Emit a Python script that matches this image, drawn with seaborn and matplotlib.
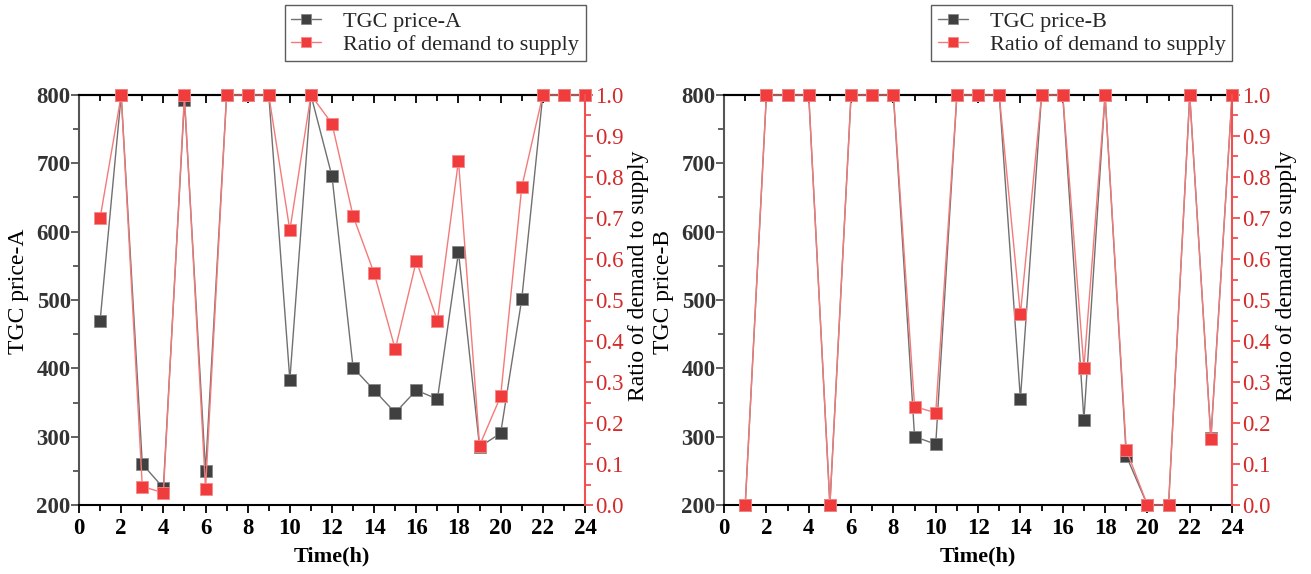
import numpy as np
import pandas as pd
import matplotlib
matplotlib.use("Agg")
import matplotlib.pyplot as plt
from matplotlib.ticker import MultipleLocator
from matplotlib.lines import Line2D
import seaborn as sns

sns.set_theme(style="white")
plt.rcParams['font.family'] = ['Liberation Serif', 'DejaVu Serif']

hours = list(range(1, 25))
price_a = [470, 800, 260, 225, 793, 250, 800, 800, 800, 383, 800, 681,
           401, 368, 335, 368, 355, 570, 285, 305, 501, 800, 800, 800]
ratio_a = [0.70, 1.0, 0.045, 0.03, 1.0, 0.04, 1.0, 1.0, 1.0, 0.67, 1.0, 0.93,
           0.705, 0.565, 0.38, 0.595, 0.45, 0.84, 0.145, 0.265, 0.775, 1.0, 1.0, 1.0]
price_b = [200, 800, 800, 800, 200, 800, 800, 800, 300, 289, 800, 800,
           800, 355, 800, 800, 325, 800, 272, 200, 200, 800, 298, 800]
ratio_b = [0.0, 1.0, 1.0, 1.0, 0.0, 1.0, 1.0, 1.0, 0.24, 0.225, 1.0, 1.0,
           1.0, 0.465, 1.0, 1.0, 0.335, 1.0, 0.135, 0.0, 0.0, 1.0, 0.16, 1.0]

BLACK_M = '#404040'
BLACK_L = '#707070'
RED_M = '#f03c3c'
RED_L = '#f47a7a'
RED_AX = '#f05050'
RED_TXT = '#d42a2a'

fig = plt.figure(figsize=(13.11, 5.74), dpi=100)

def panel(rect, price, ratio, name, legend_anchor):
    ax = fig.add_axes(rect)
    df = pd.DataFrame({'t': hours, 'p': price, 'r': ratio})
    sns.lineplot(data=df, x='t', y='p', ax=ax, color=BLACK_L, lw=1.0,
                 marker='s', markersize=8, markerfacecolor=BLACK_M,
                 markeredgecolor='#888888', markeredgewidth=0.6, clip_on=False)
    ax2 = ax.twinx()
    sns.lineplot(data=df, x='t', y='r', ax=ax2, color=RED_L, lw=1.0,
                 marker='s', markersize=8, markerfacecolor=RED_M,
                 markeredgecolor='#f58a8a', markeredgewidth=0.6, clip_on=False)
    ax.set_xlim(0, 24)
    ax.set_ylim(200, 800)
    ax2.set_ylim(0, 1.0)
    ax.xaxis.set_major_locator(MultipleLocator(2))
    ax.xaxis.set_minor_locator(MultipleLocator(1))
    ax.yaxis.set_major_locator(MultipleLocator(100))
    ax.yaxis.set_minor_locator(MultipleLocator(50))
    ax2.yaxis.set_minor_locator(MultipleLocator(0.05))
    ax2.set_yticks(np.arange(0, 1.01, 0.1))
    ax2.set_yticklabels([f'{v:.1f}' for v in np.arange(0, 1.01, 0.1)])

    for sp in ['top', 'bottom']:
        ax.spines[sp].set_color('black')
        ax.spines[sp].set_linewidth(1.5)
        ax2.spines[sp].set_visible(False)
    ax.spines['left'].set_color('#555555')
    ax.spines['left'].set_linewidth(1.5)
    ax.spines['right'].set_visible(False)
    ax2.spines['left'].set_visible(False)
    ax2.spines['right'].set_color(RED_AX)
    ax2.spines['right'].set_linewidth(1.5)

    ax.tick_params(axis='x', which='both', direction='out', bottom=True, top=False,
                   colors='black', labelsize=16.5, width=1.3)
    ax.tick_params(axis='x', which='major', length=6, pad=3)
    ax.tick_params(axis='x', which='minor', length=4)
    ax.tick_params(axis='y', which='both', direction='out', left=True, right=False,
                   color='#555555', labelcolor='#333333', labelsize=16.5, width=1.3)
    ax.tick_params(axis='y', which='major', length=6, pad=0)
    ax.tick_params(axis='y', which='minor', length=4)
    ax2.tick_params(axis='y', which='both', direction='out', right=True, left=False,
                    color=RED_AX, labelcolor=RED_TXT, labelsize=16.5, width=1.3)
    ax2.tick_params(axis='y', which='major', length=6, pad=1)
    ax2.tick_params(axis='y', which='minor', length=4)
    for lab in ax.get_xticklabels() + ax.get_yticklabels():
        lab.set_fontweight('bold')

    sec = ax.secondary_xaxis('top')
    sec.xaxis.set_major_locator(MultipleLocator(2))
    sec.xaxis.set_minor_locator(MultipleLocator(1))
    sec.tick_params(axis='x', which='both', direction='in', labeltop=False,
                    color='black', width=1.3)
    sec.tick_params(axis='x', which='major', length=6)
    sec.tick_params(axis='x', which='minor', length=4)
    sec.spines['top'].set_linewidth(1.5)
    sec.spines['top'].set_color('black')

    ax.set_xlabel('Time(h)', fontsize=16, fontweight='bold', color='black', labelpad=6)
    ax.set_ylabel(f'TGC price-{name}', fontsize=17, color='black')
    ax.yaxis.set_label_coords(-0.098, 0.52)
    ax2.set_ylabel('Ratio of demand to supply', fontsize=17, color='black')
    ax2.yaxis.set_label_coords(1.086, 0.56)
    ax2.grid(False)
    ax.grid(False)

    handles = [
        Line2D([], [], color=BLACK_L, lw=1.0, marker='s', markersize=7,
               markerfacecolor=BLACK_M, markeredgecolor='#888888', markeredgewidth=0.6),
        Line2D([], [], color=RED_L, lw=1.0, marker='s', markersize=7,
               markerfacecolor=RED_M, markeredgecolor='#f58a8a', markeredgewidth=0.6),
    ]
    leg = fig.legend(handles, [f'TGC price-{name}', 'Ratio of demand to supply'],
                     loc='upper right', bbox_to_anchor=legend_anchor,
                     bbox_transform=fig.transFigure, fontsize=16, frameon=True,
                     fancybox=False, edgecolor='#333333', handlelength=1.35,
                     handletextpad=1.0, labelspacing=0.1, borderpad=0.3,
                     borderaxespad=0.0)
    leg.get_frame().set_linewidth(1.0)
    return ax, ax2

panel([0.0603, 0.1202, 0.3859, 0.7143], price_a, ratio_a, 'A', (0.447, 0.992))
panel([0.5523, 0.1202, 0.3875, 0.7143], price_b, ratio_b, 'B', (0.940, 0.992))

fig.savefig('out.png', dpi=100)
